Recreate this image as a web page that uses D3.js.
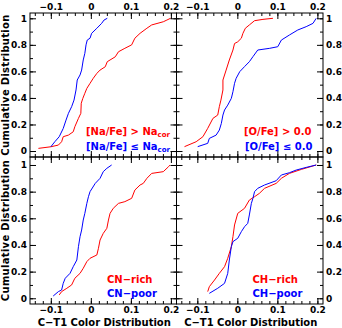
<!DOCTYPE html>
<html>
<head>
<meta charset="utf-8">
<script src="https://cdn.jsdelivr.net/npm/d3@7"></script>
<style>
  body { margin: 0; background: #fff; }
  text { font-family: "DejaVu Sans", sans-serif; font-weight: bold; }
</style>
</head>
<body>
<script>
// cumulative distributions, [C-T1 colour, fraction]
let naRich = [[-0.131,0.02],[-0.1,0.032],[-0.081,0.045],[-0.073,0.07],[-0.069,0.108],[-0.056,0.12],[-0.044,0.145],[-0.04,0.183],[-0.031,0.246],[-0.025,0.284],[-0.024,0.36],[-0.02,0.397],[-0.015,0.435],[-0.01,0.472],[-0.002,0.51],[0.006,0.548],[0.015,0.585],[0.023,0.61],[0.036,0.635],[0.041,0.673],[0.048,0.686],[0.061,0.71],[0.069,0.748],[0.085,0.774],[0.102,0.8],[0.11,0.85],[0.123,0.887],[0.14,0.925],[0.152,0.95],[0.181,0.974],[0.19,0.987],[0.199,1.0]];
let naPoor = [[-0.1,0.032],[-0.09,0.07],[-0.079,0.108],[-0.069,0.17],[-0.062,0.233],[-0.056,0.284],[-0.048,0.334],[-0.042,0.384],[-0.037,0.46],[-0.034,0.535],[-0.027,0.573],[-0.023,0.61],[-0.019,0.686],[-0.015,0.736],[-0.012,0.8],[-0.009,0.836],[-0.002,0.85],[0.002,0.887],[0.015,0.925],[0.027,0.962],[0.033,0.987],[0.041,1.0]];
let oRich = [[-0.132,0.033],[-0.103,0.07],[-0.086,0.108],[-0.074,0.171],[-0.061,0.246],[-0.049,0.271],[-0.045,0.334],[-0.041,0.384],[-0.036,0.46],[-0.036,0.535],[-0.028,0.61],[-0.02,0.686],[-0.011,0.761],[-0.007,0.81],[0.001,0.823],[0.01,0.85],[0.014,0.887],[0.02,0.925],[0.03,0.95],[0.043,0.982],[0.064,0.992],[0.089,1.0]];
let oPoor = [[-0.099,0.033],[-0.074,0.058],[-0.07,0.095],[-0.053,0.12],[-0.045,0.158],[-0.04,0.208],[-0.036,0.271],[-0.032,0.309],[-0.024,0.346],[-0.015,0.397],[-0.011,0.447],[-0.007,0.51],[-0.003,0.548],[0.006,0.598],[0.018,0.636],[0.03,0.673],[0.039,0.711],[0.051,0.761],[0.081,0.774],[0.101,0.786],[0.11,0.836],[0.13,0.874],[0.151,0.912],[0.172,0.937],[0.189,0.962],[0.197,1.0]];
let cnRich = [[-0.079,0.025],[-0.073,0.05],[-0.06,0.075],[-0.048,0.1],[-0.04,0.15],[-0.027,0.187],[-0.019,0.225],[-0.01,0.275],[-0.002,0.3],[0.015,0.325],[0.019,0.375],[0.023,0.437],[0.031,0.487],[0.04,0.525],[0.044,0.587],[0.048,0.637],[0.056,0.675],[0.069,0.712],[0.085,0.725],[0.102,0.75],[0.11,0.812],[0.123,0.85],[0.131,0.862],[0.14,0.9],[0.152,0.937],[0.181,0.95],[0.194,0.987],[0.198,1.0]];
let cnPoor = [[-0.094,0.017],[-0.081,0.05],[-0.073,0.062],[-0.069,0.112],[-0.064,0.15],[-0.052,0.187],[-0.044,0.237],[-0.035,0.287],[-0.031,0.387],[-0.027,0.462],[-0.023,0.512],[-0.019,0.587],[-0.015,0.637],[-0.01,0.712],[-0.006,0.762],[-0.002,0.8],[0.011,0.862],[0.023,0.9],[0.031,0.95],[0.04,0.975],[0.052,1.0]];
let chRich = [[-0.074,0.05],[-0.07,0.087],[-0.057,0.137],[-0.045,0.187],[-0.032,0.237],[-0.024,0.3],[-0.015,0.387],[-0.011,0.462],[-0.007,0.55],[0.001,0.637],[0.018,0.675],[0.03,0.737],[0.043,0.762],[0.055,0.787],[0.068,0.825],[0.097,0.862],[0.11,0.9],[0.13,0.937],[0.16,0.967],[0.197,1.0]];
let chPoor = [[-0.07,0.037],[-0.049,0.075],[-0.032,0.112],[-0.024,0.187],[-0.02,0.287],[-0.015,0.387],[-0.011,0.425],[0.001,0.45],[0.01,0.5],[0.018,0.537],[0.026,0.562],[0.03,0.625],[0.035,0.712],[0.039,0.75],[0.043,0.8],[0.051,0.825],[0.068,0.85],[0.097,0.882],[0.11,0.925],[0.13,0.942],[0.147,0.962],[0.172,0.982],[0.197,1.0]];

// tick values
let xMajor = [-0.1, 0, 0.1, 0.2];
let xMinor = d3.range(-7, 11).map(i => i * 0.02);
let yMajor = [0, 0.2, 0.4, 0.6, 0.8, 1];
let yMinor = d3.range(0, 11).map(i => i / 10);

let red = "#ff0000", blue = "#0000ff";

let svg = d3.select("body").append("svg")
    .attr("width", 342)
    .attr("height", 328);

// panel layout
let panels = [
  {x0: 30, y0: 13, w: 146.5, h: 144, yDom: [-0.045, 1.04], top: true, left: true,
   red: naRich, blue: naPoor, legend: "na"},
  {x0: 176.5, y0: 13, w: 146.5, h: 144, yDom: [-0.045, 1.04], top: true, left: false,
   red: oRich, blue: oPoor, legend: ["[O/Fe] > 0.0", "[O/Fe] \u2264 0.0"]},
  {x0: 30, y0: 157, w: 146.5, h: 147, yDom: [-0.043, 1.06], top: false, left: true,
   red: cnRich, blue: cnPoor, legend: ["CN\u2212rich", "CN\u2212poor"]},
  {x0: 176.5, y0: 157, w: 146.5, h: 147, yDom: [-0.043, 1.06], top: false, left: false,
   red: chRich, blue: chPoor, legend: ["CH\u2212rich", "CH\u2212poor"]}
];

let fmt = d3.format("");

panels.forEach(function(p) {
  let x = d3.scaleLinear().domain([-0.152, 0.214]).range([0, p.w]);
  let y = d3.scaleLinear().domain(p.yDom).range([p.h, 0]);

  let g = svg.append("g").attr("transform", "translate(" + p.x0 + "," + p.y0 + ")");

  let line = d3.line().x(d => x(d[0])).y(d => y(d[1]));

  g.append("path").datum(p.red)
      .attr("d", line).attr("fill", "none").attr("stroke", red).attr("stroke-width", 1);
  g.append("path").datum(p.blue)
      .attr("d", line).attr("fill", "none").attr("stroke", blue).attr("stroke-width", 1);

  // axes, ticks pointing inwards on all four sides
  function axis(gen, scale, vals, size, label, tx, ty) {
    let a = gen(scale).tickValues(vals).tickSizeInner(-size).tickSizeOuter(0)
        .tickPadding(3).tickFormat(label ? fmt : "");
    let ag = g.append("g").attr("transform", "translate(" + tx + "," + ty + ")").call(a);
    ag.select(".domain").remove();
    ag.selectAll("line").attr("stroke", "#000");
    ag.selectAll("text").attr("font-size", 9).attr("fill", "#000").attr("font-family", null);
    return ag;
  }
  axis(d3.axisBottom, x, xMinor, 3, false, 0, p.h);
  axis(d3.axisBottom, x, xMajor, 6, !p.top, 0, p.h);
  axis(d3.axisTop, x, xMinor, 3, false, 0, 0);
  axis(d3.axisTop, x, xMajor, 6, p.top, 0, 0);
  axis(d3.axisLeft, y, yMinor, 3, false, 0, 0);
  axis(d3.axisLeft, y, yMajor, 6, p.left, 0, 0);
  axis(d3.axisRight, y, yMinor, 3, false, p.w, 0);
  axis(d3.axisRight, y, yMajor, 6, !p.left, p.w, 0);

  g.append("rect").attr("width", p.w).attr("height", p.h)
      .attr("fill", "none").attr("stroke", "#000").attr("stroke-width", 1);

  // legend
  if (p.legend === "na") {
    let t1 = g.append("text").attr("x", 140).attr("y", 122).attr("text-anchor", "end")
        .attr("font-size", 10).attr("fill", red);
    t1.append("tspan").text("[Na/Fe] > Na");
    t1.append("tspan").attr("font-size", 7).attr("dy", 2).text("cor");
    let t2 = g.append("text").attr("x", 140).attr("y", 137).attr("text-anchor", "end")
        .attr("font-size", 10).attr("fill", blue);
    t2.append("tspan").text("[Na/Fe] \u2264 Na");
    t2.append("tspan").attr("font-size", 7).attr("dy", 2).text("cor");
  } else if (p.top) {
    g.append("text").attr("x", 135).attr("y", 122).attr("text-anchor", "end")
        .attr("font-size", 10).attr("fill", red).text(p.legend[0]);
    g.append("text").attr("x", 136).attr("y", 137).attr("text-anchor", "end")
        .attr("font-size", 10).attr("fill", blue).text(p.legend[1]);
  } else {
    g.append("text").attr("x", p.left ? 77 : 76).attr("y", 126)
        .attr("font-size", 10).attr("fill", red).text(p.legend[0]);
    g.append("text").attr("x", p.left ? 77 : 76).attr("y", 140)
        .attr("font-size", 10).attr("fill", blue).text(p.legend[1]);
  }

  if (p.left) {
    g.append("text")
        .attr("transform", "translate(-21.5," + (p.h / 2) + ") rotate(-90)")
        .attr("text-anchor", "middle").attr("font-size", 10).attr("fill", "#000")
        .attr("letter-spacing", 0.3)
        .text("Cumulative Distribution");
  }
  if (!p.top) {
    g.append("text").attr("x", p.w / 2 + 1).attr("y", p.h + 21.5)
        .attr("text-anchor", "middle").attr("font-size", 10).attr("fill", "#000")
        .text("C\u2212T1 Color Distribution");
  }
});
</script>
</body>
</html>
